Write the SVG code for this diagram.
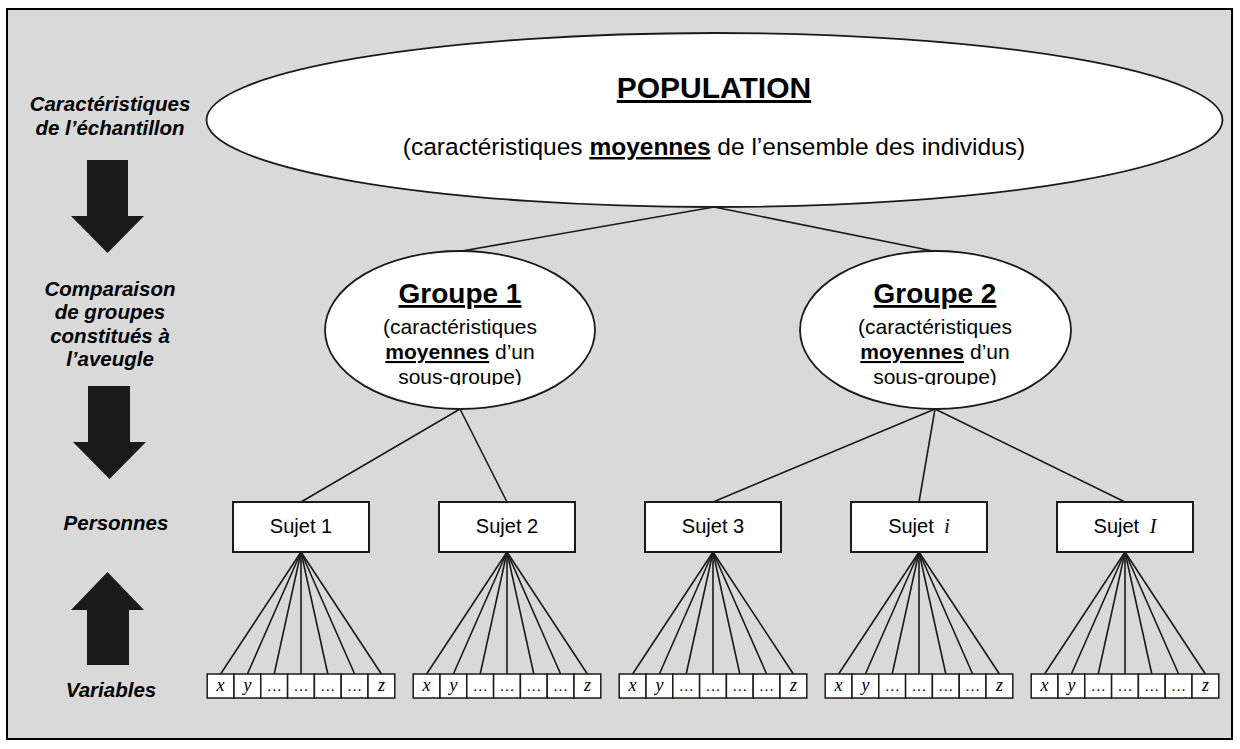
<svg xmlns="http://www.w3.org/2000/svg" xmlns:xlink="http://www.w3.org/1999/xlink" width="1240" height="749" viewBox="0 0 1240 749">
<style>
.frame{fill:#d9d9d9;stroke:#000;stroke-width:2}
.node{fill:#fff;stroke:#1a1a1a;stroke-width:1.8}
.box{fill:#fff;stroke:#1a1a1a;stroke-width:2}
.cell{fill:#fff;stroke:#1a1a1a;stroke-width:1.5}
.con line{stroke:#1a1a1a;stroke-width:1.6}
.fl{stroke:#1a1a1a;stroke-width:1.6}
.arrow{fill:#1a1a1a}
.lab{font-family:"Liberation Sans",Arial,sans-serif;font-size:20.5px;font-weight:bold;font-style:italic;text-anchor:middle;fill:#000}
.t{font-family:"Liberation Sans",Arial,sans-serif;text-anchor:middle;fill:#000}
.u{font-weight:bold;text-decoration:underline}
.m{font-family:"Liberation Serif","Times New Roman",serif;font-style:italic;font-size:18px;text-anchor:middle;fill:#000}
.d{font-family:"Liberation Serif","Times New Roman",serif;font-size:15px;text-anchor:middle;fill:#000}
</style>
<defs>
<clipPath id="clip3"><rect x="0" y="0" width="1240" height="385"/></clipPath>
<g id="fan" class="fl">
<line class="fl" x1="0" y1="552" x2="-80.4" y2="674"/>
<line class="fl" x1="0" y1="552" x2="-53.6" y2="674"/>
<line class="fl" x1="0" y1="552" x2="-26.8" y2="674"/>
<line class="fl" x1="0" y1="552" x2="0" y2="674"/>
<line class="fl" x1="0" y1="552" x2="26.8" y2="674"/>
<line class="fl" x1="0" y1="552" x2="53.6" y2="674"/>
<line class="fl" x1="0" y1="552" x2="80.4" y2="674"/>
</g>
<g id="vars">
<rect class="cell" x="-93.8" y="674" width="26.8" height="24"/>
<rect class="cell" x="-67" y="674" width="26.8" height="24"/>
<rect class="cell" x="-40.2" y="674" width="26.8" height="24"/>
<rect class="cell" x="-13.4" y="674" width="26.8" height="24"/>
<rect class="cell" x="13.4" y="674" width="26.8" height="24"/>
<rect class="cell" x="40.2" y="674" width="26.8" height="24"/>
<rect class="cell" x="67" y="674" width="26.8" height="24"/>
<text class="m" x="-80.4" y="691">x</text>
<text class="m" x="-53.6" y="691">y</text>
<text class="d" x="-26.8" y="691">…</text>
<text class="d" x="0" y="691">…</text>
<text class="d" x="26.8" y="691">…</text>
<text class="d" x="53.6" y="691">…</text>
<text class="m" x="80.4" y="691">z</text>
</g>
</defs>

<rect class="frame" x="7" y="9" width="1225" height="730"/>

<g id="labels">
<text class="lab" x="110" y="111">Caractéristiques</text>
<text class="lab" x="110" y="135">de l’échantillon</text>
<text class="lab" x="110" y="296">Comparaison</text>
<text class="lab" x="110" y="319">de groupes</text>
<text class="lab" x="110" y="343">constitués à</text>
<text class="lab" x="110" y="366">l’aveugle</text>
<text class="lab" x="116" y="530">Personnes</text>
<text class="lab" x="111" y="697">Variables</text>
<polygon class="arrow" points="87,160 128,160 128,216 144,216 107.5,253 71,216 87,216"/>
<polygon class="arrow" points="88,386 130,386 130,442 146,442 109.5,479 73,442 88,442"/>
<polygon class="arrow" points="87,665 129,665 129,610 144,610 107.5,572 71,610 87,610"/>
</g>

<g id="connectors" class="con">
<line x1="714" y1="207" x2="462" y2="251"/>
<line x1="714" y1="207" x2="933" y2="251"/>
<line x1="460" y1="409" x2="301" y2="502"/>
<line x1="460" y1="409" x2="507" y2="502"/>
<line x1="935" y1="409" x2="713" y2="502"/>
<line x1="935" y1="409" x2="919" y2="502"/>
<line x1="935" y1="409" x2="1125" y2="502"/>
<use xlink:href="#fan" x="301"/>
<use xlink:href="#fan" x="507"/>
<use xlink:href="#fan" x="713"/>
<use xlink:href="#fan" x="919"/>
<use xlink:href="#fan" x="1125"/>
</g>

<g id="population">
<ellipse class="node" cx="714.5" cy="120" rx="508" ry="87"/>
<text class="t u" x="714" y="98" font-size="30">POPULATION</text>
<text class="t" x="714" y="155" font-size="24.5">(caractéristiques <tspan class="u">moyennes</tspan> de l’ensemble des individus)</text>
</g>

<g id="groupe1">
<ellipse class="node" cx="460" cy="330" rx="135" ry="79"/>
<text class="t u" x="460" y="303" font-size="28">Groupe 1</text>
<text class="t" x="460" y="334" font-size="21">(caractéristiques</text>
<text class="t" x="460" y="359" font-size="21"><tspan class="u">moyennes</tspan> d’un</text>
<text class="t" x="460" y="383.5" font-size="21" clip-path="url(#clip3)">sous-groupe)</text>
</g>

<g id="groupe2">
<ellipse class="node" cx="935.5" cy="330" rx="135.5" ry="79"/>
<text class="t u" x="935" y="303" font-size="28">Groupe 2</text>
<text class="t" x="935" y="334" font-size="21">(caractéristiques</text>
<text class="t" x="935" y="359" font-size="21"><tspan class="u">moyennes</tspan> d’un</text>
<text class="t" x="935" y="383.5" font-size="21" clip-path="url(#clip3)">sous-groupe)</text>
</g>

<g id="sujet1">
<rect class="box" x="233" y="502" width="136" height="50"/>
<text class="t" x="301" y="533" font-size="20">Sujet 1</text>
<use xlink:href="#vars" x="301"/>
</g>
<g id="sujet2">
<rect class="box" x="439" y="502" width="136" height="50"/>
<text class="t" x="507" y="533" font-size="20">Sujet 2</text>
<use xlink:href="#vars" x="507"/>
</g>
<g id="sujet3">
<rect class="box" x="645" y="502" width="136" height="50"/>
<text class="t" x="713" y="533" font-size="20">Sujet 3</text>
<use xlink:href="#vars" x="713"/>
</g>
<g id="sujet-i">
<rect class="box" x="851" y="502" width="136" height="50"/>
<text class="t" x="919" y="533" font-size="20">Sujet <tspan dx="5" font-family="'Liberation Serif','Times New Roman',serif" font-style="italic">i</tspan></text>
<use xlink:href="#vars" x="919"/>
</g>
<g id="sujet-I">
<rect class="box" x="1057" y="502" width="136" height="50"/>
<text class="t" x="1125" y="533" font-size="20">Sujet <tspan dx="5" font-family="'Liberation Serif','Times New Roman',serif" font-style="italic">I</tspan></text>
<use xlink:href="#vars" x="1125"/>
</g>
</svg>
